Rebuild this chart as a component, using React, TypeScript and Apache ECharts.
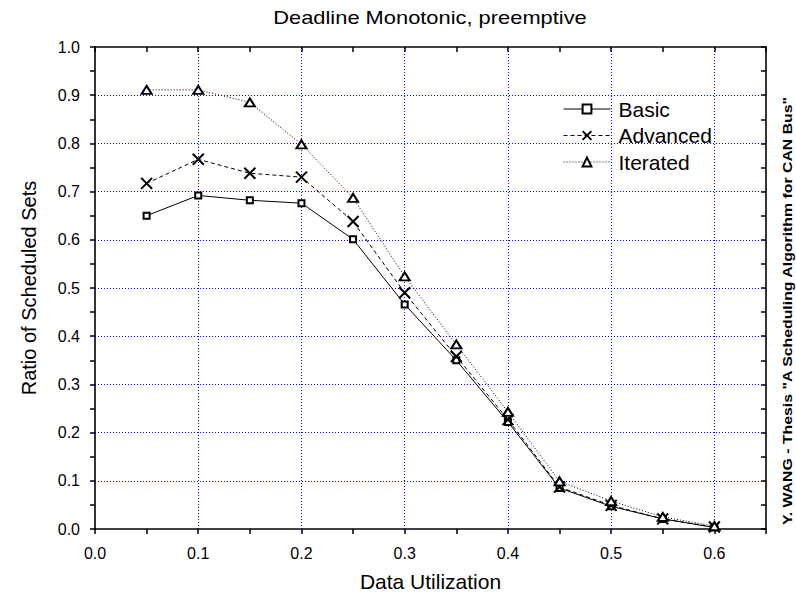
import React, { useEffect, useRef } from "react";
import * as echarts from "echarts";

// Data utilization sample points
const utilization = [0.05, 0.1, 0.15, 0.2, 0.25, 0.3, 0.35, 0.4, 0.45, 0.5, 0.55, 0.6];
// Ratio of scheduled sets for each analysis
const basic = [0.65, 0.692, 0.682, 0.676, 0.601, 0.466, 0.35, 0.222, 0.085, 0.047, 0.021, 0.003];
const advanced = [0.717, 0.767, 0.738, 0.73, 0.638, 0.49, 0.358, 0.227, 0.087, 0.049, 0.021, 0.004];
const iterated = [0.911, 0.911, 0.885, 0.798, 0.687, 0.524, 0.383, 0.243, 0.099, 0.058, 0.025, 0.006];
// Major grid positions
const xGrid = [0.1, 0.2, 0.3, 0.4, 0.5, 0.6];
const yGrid = [0.1, 0.2, 0.3, 0.4, 0.5, 0.6, 0.7, 0.8, 0.9];

const FONT = '"Liberation Sans", Arial, Helvetica, sans-serif';
const CROSS = "path://M0,0L10,10M10,0L0,10";

const pairs = (ys: number[]) => utilization.map((x, i) => [x, ys[i]]);
const majorLabel = (v: number) =>
  Math.abs(v * 10 - Math.round(v * 10)) < 1e-6 ? v.toFixed(1) : "";

export default function App() {
  const ref = useRef<HTMLDivElement>(null);

  useEffect(() => {
    if (!ref.current) return;
    const chart = echarts.init(ref.current, undefined, { renderer: "svg" });

    const axisBase = {
      type: "value" as const,
      axisLine: { show: true, onZero: false, lineStyle: { color: "#000", width: 1.6 } },
      splitLine: { show: false },
    };

    chart.setOption({
      animation: false,
      backgroundColor: "#fff",
      grid: { left: 95, right: 30, top: 47, bottom: 64, containLabel: false },
      legend: {
        data: ["Basic", "Advanced", "Iterated"],
        orient: "vertical",
        left: 563,
        top: 98.5,
        padding: 0,
        itemWidth: 47,
        itemHeight: 11,
        itemGap: 5.5,
        lineStyle: { width: 1 },
        textStyle: { fontFamily: FONT, fontSize: 21, color: "#000", padding: [0, 0, 0, 3] },
        selectedMode: false,
      },
      xAxis: [
        {
          ...axisBase,
          position: "bottom",
          min: 0,
          max: 0.65,
          interval: 0.05,
          axisTick: { show: true, inside: false, length: 5, lineStyle: { color: "#000", width: 1.5 } },
          axisLabel: {
            formatter: majorLabel,
            fontFamily: FONT,
            fontSize: 16,
            color: "#000",
            margin: 16,
          },
          name: "Data Utilization",
          nameLocation: "middle",
          nameGap: 42,
          nameTextStyle: { fontFamily: FONT, fontSize: 21, color: "#000" },
        },
        {
          ...axisBase,
          position: "top",
          min: 0,
          max: 0.65,
          interval: 0.05,
          axisTick: { show: true, inside: true, length: 5, lineStyle: { color: "#000", width: 1.5 } },
          axisLabel: { show: false },
        },
      ],
      yAxis: [
        {
          ...axisBase,
          position: "left",
          min: 0,
          max: 1,
          interval: 0.05,
          axisTick: { show: true, inside: false, length: 5, lineStyle: { color: "#000", width: 1.5 } },
          axisLabel: {
            formatter: majorLabel,
            fontFamily: FONT,
            fontSize: 16,
            color: "#000",
            margin: 15,
          },
          name: "Ratio of Scheduled Sets",
          nameLocation: "middle",
          nameGap: 56,
          nameTextStyle: { fontFamily: FONT, fontSize: 20, color: "#000" },
        },
        {
          ...axisBase,
          position: "right",
          min: 0,
          max: 1,
          interval: 0.05,
          axisTick: { show: true, inside: true, length: 5, lineStyle: { color: "#000", width: 1.5 } },
          axisLabel: { show: false },
        },
      ],
      series: [
        {
          name: "grid",
          type: "line",
          data: [],
          silent: true,
          markLine: {
            z: 1,
            silent: true,
            symbol: ["none", "none"],
            label: { show: false },
            lineStyle: { color: "#0000ff", type: [1, 2], width: 1 },
            data: [
              ...xGrid.map((v) => ({ xAxis: v })),
              ...yGrid.map((v) => ({ yAxis: v })),
            ],
          },
        },
        {
          name: "Basic",
          type: "line",
          z: 3,
          data: pairs(basic),
          symbol: "rect",
          symbolSize: 6,
          lineStyle: { color: "#000", width: 1, type: "solid" },
          itemStyle: { color: "#fff", borderColor: "#000", borderWidth: 2 },
        },
        {
          name: "Advanced",
          type: "line",
          z: 3,
          data: pairs(advanced),
          symbol: CROSS,
          symbolSize: 11,
          lineStyle: { color: "#000", width: 1, type: [4, 3] },
          itemStyle: { color: "#000", borderColor: "#000", borderWidth: 2 },
        },
        {
          name: "Iterated",
          type: "line",
          z: 3,
          data: pairs(iterated),
          symbol: "triangle",
          symbolSize: [10, 8],
          lineStyle: { color: "#000", width: 1, type: [1, 2] },
          itemStyle: { color: "#fff", borderColor: "#000", borderWidth: 2 },
        },
      ],
      graphic: [
        {
          type: "text",
          x: 430,
          y: 18,
          scaleX: 1.25,
          style: {
            text: "Deadline Monotonic, preemptive",
            fontFamily: FONT,
            fontSize: 17.5,
            fill: "#000",
            align: "center",
            verticalAlign: "middle",
          },
        },
        {
          type: "text",
          x: 788,
          y: 311,
          rotation: Math.PI / 2,
          scaleX: 1.32,
          style: {
            text: 'Y. WANG - Thesis "A Scheduling Algorithm for CAN Bus"',
            fontFamily: FONT,
            fontSize: 12,
            fontWeight: "bold",
            fill: "#000",
            align: "center",
            verticalAlign: "middle",
          },
        },
      ],
    });

    return () => chart.dispose();
  }, []);

  return (
    <div
      ref={ref}
      style={{ position: "fixed", left: 0, top: 0, width: 796, height: 597 }}
    />
  );
}
